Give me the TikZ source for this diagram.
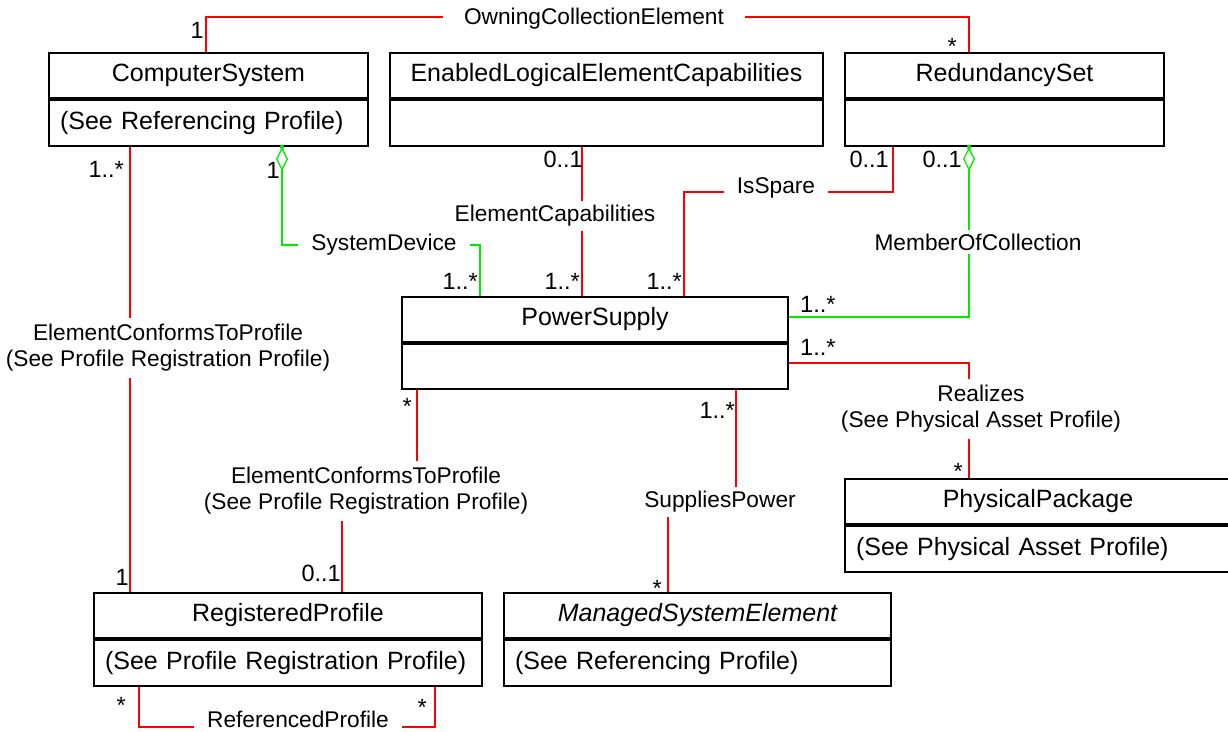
\documentclass[tikz,border=0pt]{standalone}
\usepackage{fontspec}
\setmainfont{Liberation Sans}
\usetikzlibrary{calc,arrows.meta}
\definecolor{lred}{RGB}{255,0,0}
\definecolor{lgreen}{RGB}{0,235,0}
\begin{document}
\begin{tikzpicture}[x=1pt,y=-1pt,
  hdr/.style={draw,line width=2pt,anchor=north west,inner sep=0pt,minimum height=45pt,font=\fontsize{25}{30}\selectfont},
  bdy/.style={draw,line width=2pt,anchor=north west,inner xsep=11pt,inner ysep=0pt,minimum height=46pt,align=left,font=\fontsize{25}{30}\selectfont},
  assoc/.style={draw=lred,line width=1.3pt},
  aggr/.style={draw=lgreen,line width=1.3pt},
  agtip/.style={{Diamond[open,length=24pt,width=12pt]}-},
  lbl/.style={fill=white,inner xsep=13pt,inner ysep=4pt,align=center,font=\fontsize{22.7}{26}\selectfont},
  mult/.style={inner sep=0pt,font=\fontsize{23.5}{26}\selectfont},
]
\useasboundingbox (0,0) rectangle (1228,731);
\fill[white] (0,0) rectangle (1228,731);
\clip (0,0) rectangle (1228,731);

% classes
\node[hdr,minimum width=319pt] (cs) at (48,52) {ComputerSystem};
\node[bdy,text width=297pt] (csb) at (cs.south west) {(See Referencing Profile)};
\node[hdr,minimum width=433pt] (elec) at (389,52) {EnabledLogicalElementCapabilities};
\node[bdy,text width=411pt] (elecb) at (elec.south west) {};
\node[hdr,minimum width=319pt] (rs) at (844,52) {RedundancySet};
\node[bdy,text width=297pt] (rsb) at (rs.south west) {};
\node[hdr,minimum width=386pt] (ps) at (401,296) {PowerSupply};
\node[bdy,text width=364pt,minimum height=45pt] (psb) at (ps.south west) {};
\node[hdr,minimum width=386pt] (pp) at (844,478) {PhysicalPackage};
\node[bdy,text width=364pt] (ppb) at (pp.south west) {(See Physical Asset Profile)};
\node[hdr,minimum width=388pt] (rp) at (93,592) {RegisteredProfile};
\node[bdy,text width=366pt] (rpb) at (rp.south west) {(See Profile Registration Profile)};
\node[hdr,minimum width=387pt] (mse) at (503,592) {\itshape ManagedSystemElement};
\node[bdy,text width=365pt] (mseb) at (mse.south west) {(See Referencing Profile)};

% connectors
\draw[assoc] ($(cs.north west)+(158,0)$) |- ($(rs.north west)+(125,-35)$) -- ($(rs.north west)+(125,0)$);
\draw[assoc] ($(csb.south west)+(82,0)$) -- ($(rp.north west)+(37,0)$);
\draw[aggr,agtip] ($(csb.south west)+(234,0)$) |- ($(ps.north west)+(79,-51)$) -- ($(ps.north west)+(79,0)$);
\fill[lgreen] ($(csb.south west)+(234,0)$) circle (2.2pt);
\draw[assoc] ($(elecb.south west)+(193,0)$) -- ($(ps.north west)+(181,0)$);
\draw[assoc] ($(ps.north west)+(283,0)$) |- ($(rsb.south west)+(49,45)$) -- ($(rsb.south west)+(49,0)$);
\draw[aggr,agtip] ($(rsb.south west)+(125,0)$) |- ($(ps.north east)+(0,21)$);
\fill[lgreen] ($(rsb.south west)+(125,0)$) circle (2.2pt);
\draw[assoc] ($(ps.north east)+(0,67)$) -| ($(pp.north west)+(125,0)$);
\draw[assoc] ($(psb.south west)+(16,0)$) |- ($(rp.north west)+(249,-101)$) -- ($(rp.north west)+(249,0)$);
\draw[assoc] ($(psb.south west)+(335,0)$) |- ($(mse.north west)+(165,-91)$) -- ($(mse.north west)+(165,0)$);
\draw[assoc] ($(rpb.south west)+(46,0)$) |- ($(rpb.south west)+(342,40)$) -- ($(rpb.south west)+(342,0)$);

% connector labels
\node[lbl,inner xsep=21pt] (loce) at (594,19) {OwningCollectionElement};
\node[lbl,inner ysep=6pt] (lcr) at (168,348) {ElementConformsToProfile\\(See Profile Registration Profile)};
\node[lbl] (lsd) at (384,245) {SystemDevice};
\node[lbl] (lec) at (555,216) {ElementCapabilities};
\node[lbl] (lis) at (776,188) {IsSpare};
\node[lbl] (lmoc) at (978,242) {MemberOfCollection};
\node[lbl,inner ysep=6pt] (lre) at (981,409) {Realizes\\(See Physical Asset Profile)};
\node[lbl,inner ysep=6pt] (lpr) at (366,491) {ElementConformsToProfile\\(See Profile Registration Profile)};
\node[lbl] (lsp) at (720,502) {SuppliesPower};
\node[lbl,inner ysep=2pt] (lrp) at (298,719) {ReferencedProfile};

% multiplicities
\node[mult,anchor=base east] (m1) at (204,38) {1};
\node[mult,anchor=base east] (m2) at (957,54) {*};
\node[mult,anchor=base east] (m3) at (124,177) {1..*};
\node[mult,anchor=base east] (m4) at (280,178) {1};
\node[mult,anchor=base east] (m5) at (583,167) {0..1};
\node[mult,anchor=base east] (m6) at (889,167) {0..1};
\node[mult,anchor=base east] (m7) at (962,167) {0..1};
\node[mult,anchor=base east] (m8) at (478,289) {1..*};
\node[mult,anchor=base east] (m9) at (580,289) {1..*};
\node[mult,anchor=base east] (m10) at (682,289) {1..*};
\node[mult,anchor=base west] (m11) at (800,312) {1..*};
\node[mult,anchor=base west] (m12) at (800,355) {1..*};
\node[mult,anchor=base east] (m13) at (412,414) {*};
\node[mult,anchor=base east] (m14) at (735,418) {1..*};
\node[mult,anchor=base east] (m15) at (963,479) {*};
\node[mult,anchor=base east] (m16) at (341,581) {0..1};
\node[mult,anchor=base east] (m17) at (129,585) {1};
\node[mult,anchor=base east] (m18) at (662,596) {*};
\node[mult,anchor=base east] (m19) at (126,713) {*};
\node[mult,anchor=base east] (m20) at (427,715) {*};
\end{tikzpicture}
\end{document}
